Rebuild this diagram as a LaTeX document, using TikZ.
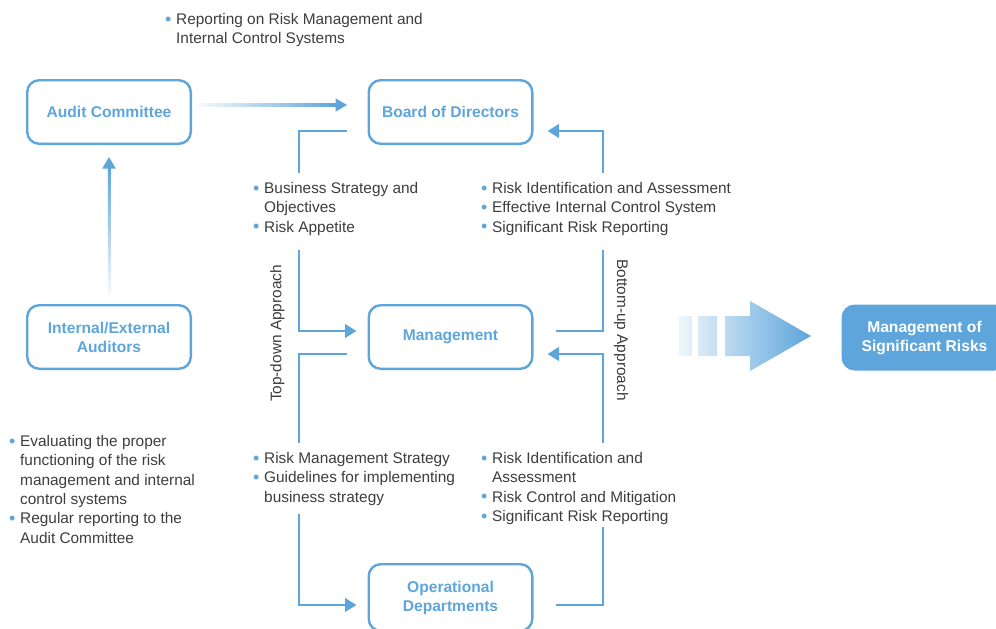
\documentclass[tikz,border=0pt]{standalone}
\usepackage{fontspec}
\setmainfont{Liberation Sans}
\usetikzlibrary{positioning,calc,arrows.meta}
\definecolor{riskblue}{HTML}{5DA5DB}
\definecolor{textgray}{HTML}{3D3D3D}
\newcommand{\bul}{\makebox[9pt][l]{\hspace*{-2pt}\color{riskblue}\fontsize{18}{18}\selectfont\raisebox{-0.8pt}{•}}\strut}
\newcommand{\ind}{\hspace*{9pt}}
\tikzset{
	box/.style={draw=riskblue, line width=2.4pt, rounded corners=12pt, minimum width=163.6pt, minimum height=63.6pt, align=center, text=riskblue, font=\fontsize{15.6}{19}\selectfont\bfseries},
	fullbox/.style={box, fill=riskblue, text=white},
	txt/.style={anchor=north west, inner sep=0pt, align=left, text=textgray, font=\fontsize{15.4}{19.4}\selectfont},
	link/.style={draw=riskblue, line width=2.5pt},
	head/.style={-{Triangle[length=11.5pt,width=13.5pt]}},
}
\begin{document}
\begin{tikzpicture}[x=1pt,y=-1pt]
\useasboundingbox (0,0) rectangle (996,629);
\node [box] (ac) at (109,112) {Audit Committee};
\node [box] (bd) at (450.5,112) {Board of Directors};
\node [box] (au) at (109,337) {Internal/External\\Auditors};
\node [box] (mg) at (450.5,337) {Management};
\node [box, minimum height=66.6pt] (od) at (450.5,597.5) {Operational\\Departments};
\node [fullbox] (ms) at (924.5,337.5) {Management of\\Significant Risks};

\node [txt] (rep) at (167,10.5) {\bul Reporting on Risk Management and\\\ind Internal Control Systems};
\node [txt] (bs) at (255,179.5) {\bul Business Strategy and\\\ind Objectives\\\bul Risk Appetite};
\node [txt] (ri) at (483,179.5) {\bul Risk Identification and Assessment\\\bul Effective Internal Control System\\\bul Significant Risk Reporting};
\node [txt] (ev) at (11,432.5) {\bul Evaluating the proper\\\ind functioning of the risk\\\ind management and internal\\\ind control systems\\\bul Regular reporting to the\\\ind Audit Committee};
\node [txt] (rm) at (255,449.5) {\bul Risk Management Strategy\\\bul Guidelines for implementing\\\ind business strategy};
\node [txt] (ra) at (483,449.5) {\bul Risk Identification and\\\ind Assessment\\\bul Risk Control and Mitigation\\\bul Significant Risk Reporting};
\node [txt, anchor=center, rotate=90] (td) at (277.5,333.5) {Top-down Approach};
\node [txt, anchor=center, rotate=-90] (bu) at (621,330) {Bottom-up Approach};

\coordinate (g1) at (299,173);
\coordinate (g2) at (299,250);
\coordinate (g3) at (603,173);
\coordinate (g4) at (603,250);
\coordinate (g5) at (299,443);
\coordinate (g6) at (299,514);
\coordinate (g7) at (603,443);
\coordinate (g8) at (603,527);

\draw [link] ($(bd.west)+(-21,19)$) -| (g1) ;
\draw [link,head] (g2) |- ($(mg.west)+(-11,-6)$) ;
\draw [link] ($(mg.east)+(22,-6)$) -| (g4) ;
\draw [link,head] (g3) |- ($(bd.east)+(14,19)$) ;
\draw [link] ($(mg.west)+(-21,17)$) -| (g5) ;
\draw [link,head] (g6) |- ($(od.west)+(-11,7.5)$) ;
\draw [link] ($(od.east)+(22,7.5)$) -| (g8) ;
\draw [link,head] (g7) |- ($(mg.east)+(14,17)$) ;

\coordinate (t1) at ($(bd.west)+(-20.5,-7)$);
\shade [left color=riskblue!5, right color=riskblue] ($(ac.east)+(6,-8.25)$) rectangle ($(t1)+(-10,1.25)$);
\fill [riskblue] (t1) -- ++(-11.5,-6.75) -- ++(0,13.5) -- cycle;

\coordinate (t2) at ($(ac.south)+(0,12)$);
\shade [top color=riskblue, bottom color=riskblue!5] ($(t2)+(-1.25,10)$) rectangle ($(au.north)+(1.25,-10)$);
\fill [riskblue] (t2) -- ++(-6.75,11.5) -- ++(13.5,0) -- cycle;

\shade [left color=riskblue!10, right color=riskblue] (679,316) rectangle (692,356) (698,316) rectangle (717,356) (725,316) -- (750,316) -- (750,301) -- (811,336) -- (750,371) -- (750,356) -- (725,356) -- cycle;
\end{tikzpicture}
\end{document}
